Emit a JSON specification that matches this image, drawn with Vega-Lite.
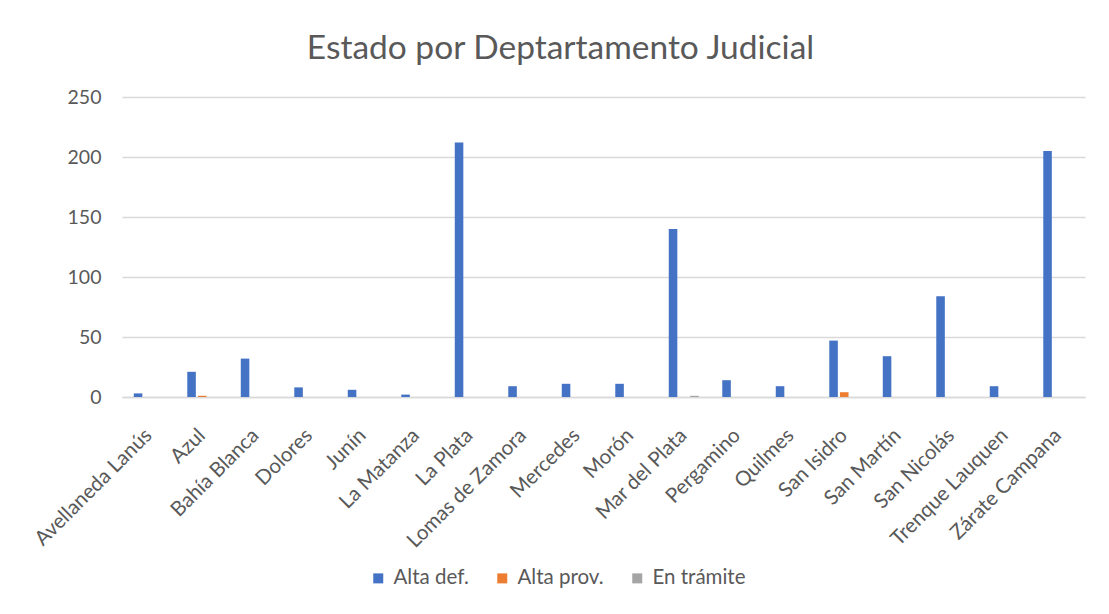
{
  "$schema": "https://vega.github.io/schema/vega-lite/v6.json",
  "autosize": {"type": "none"},
  "width": 963,
  "height": 300,
  "padding": {"left": 122, "top": 97, "right": 24, "bottom": 217},
  "background": "white",
  "title": {
    "text": "Estado por Deptartamento Judicial",
    "font": "Lato",
    "fontSize": 33.5,
    "fontWeight": "normal",
    "color": "#595959",
    "anchor": "middle",
    "dx": -43,
    "offset": 21
  },
  "data": {
    "values": [
      {"depto": "Avellaneda Lanús", "estado": "Alta def.", "n": 3},
      {"depto": "Azul", "estado": "Alta def.", "n": 21},
      {"depto": "Azul", "estado": "Alta prov.", "n": 1},
      {"depto": "Bahía Blanca", "estado": "Alta def.", "n": 32},
      {"depto": "Dolores", "estado": "Alta def.", "n": 8},
      {"depto": "Junín", "estado": "Alta def.", "n": 6},
      {"depto": "La Matanza", "estado": "Alta def.", "n": 2},
      {"depto": "La Plata", "estado": "Alta def.", "n": 212},
      {"depto": "Lomas de Zamora", "estado": "Alta def.", "n": 9},
      {"depto": "Mercedes", "estado": "Alta def.", "n": 11},
      {"depto": "Morón", "estado": "Alta def.", "n": 11},
      {"depto": "Mar del Plata", "estado": "Alta def.", "n": 140},
      {"depto": "Mar del Plata", "estado": "En trámite", "n": 1},
      {"depto": "Pergamino", "estado": "Alta def.", "n": 14},
      {"depto": "Quilmes", "estado": "Alta def.", "n": 9},
      {"depto": "San  Isidro", "estado": "Alta def.", "n": 47},
      {"depto": "San  Isidro", "estado": "Alta prov.", "n": 4},
      {"depto": "San Martín", "estado": "Alta def.", "n": 34},
      {"depto": "San Nicolás", "estado": "Alta def.", "n": 84},
      {"depto": "Trenque Lauquen", "estado": "Alta def.", "n": 9},
      {"depto": "Zárate Campana", "estado": "Alta def.", "n": 205}
    ]
  },
  "mark": {"type": "bar"},
  "encoding": {
    "x": {
      "field": "depto",
      "type": "nominal",
      "sort": ["Avellaneda Lanús", "Azul", "Bahía Blanca", "Dolores", "Junín", "La Matanza", "La Plata", "Lomas de Zamora", "Mercedes", "Morón", "Mar del Plata", "Pergamino", "Quilmes", "San  Isidro", "San Martín", "San Nicolás", "Trenque Lauquen", "Zárate Campana"],
      "scale": {"paddingInner": 0.44, "paddingOuter": 0.22},
      "axis": {
        "title": null,
        "labelAngle": -45,
        "labelAlign": "right",
        "labelBaseline": "middle",
        "labelFont": "Lato",
        "labelFontSize": 20.5,
        "labelColor": "#595959",
        "labelPadding": 35,
        "ticks": false,
        "domainColor": "#D9D9D9",
        "domainWidth": 1.5,
        "labelOverlap": false
      }
    },
    "xOffset": {
      "field": "estado",
      "type": "nominal",
      "scale": {"domain": ["Alta def.", "Alta prov.", "En trámite"], "paddingInner": 0.2}
    },
    "y": {
      "field": "n",
      "type": "quantitative",
      "scale": {"domain": [0, 250]},
      "axis": {
        "title": null,
        "values": [0, 50, 100, 150, 200, 250],
        "labelFont": "Lato",
        "labelFontSize": 19.5,
        "labelColor": "#595959",
        "labelPadding": 21,
        "ticks": false,
        "domain": false,
        "gridColor": "#D9D9D9",
        "gridWidth": 1.5
      }
    },
    "color": {
      "field": "estado",
      "type": "nominal",
      "scale": {"domain": ["Alta def.", "Alta prov.", "En trámite"], "range": ["#4472C4", "#ED7D31", "#A5A5A5"]},
      "legend": {
        "title": null,
        "orient": "none",
        "direction": "horizontal",
        "legendX": 246,
        "legendY": 471,
        "symbolType": "square",
        "symbolSize": 100,
        "symbolStrokeWidth": 0,
        "labelFont": "Lato",
        "labelFontSize": 20.5,
        "labelColor": "#595959",
        "columnPadding": 23,
        "labelOffset": 5
      }
    }
  },
  "config": {
    "view": {"stroke": null}
  }
}
